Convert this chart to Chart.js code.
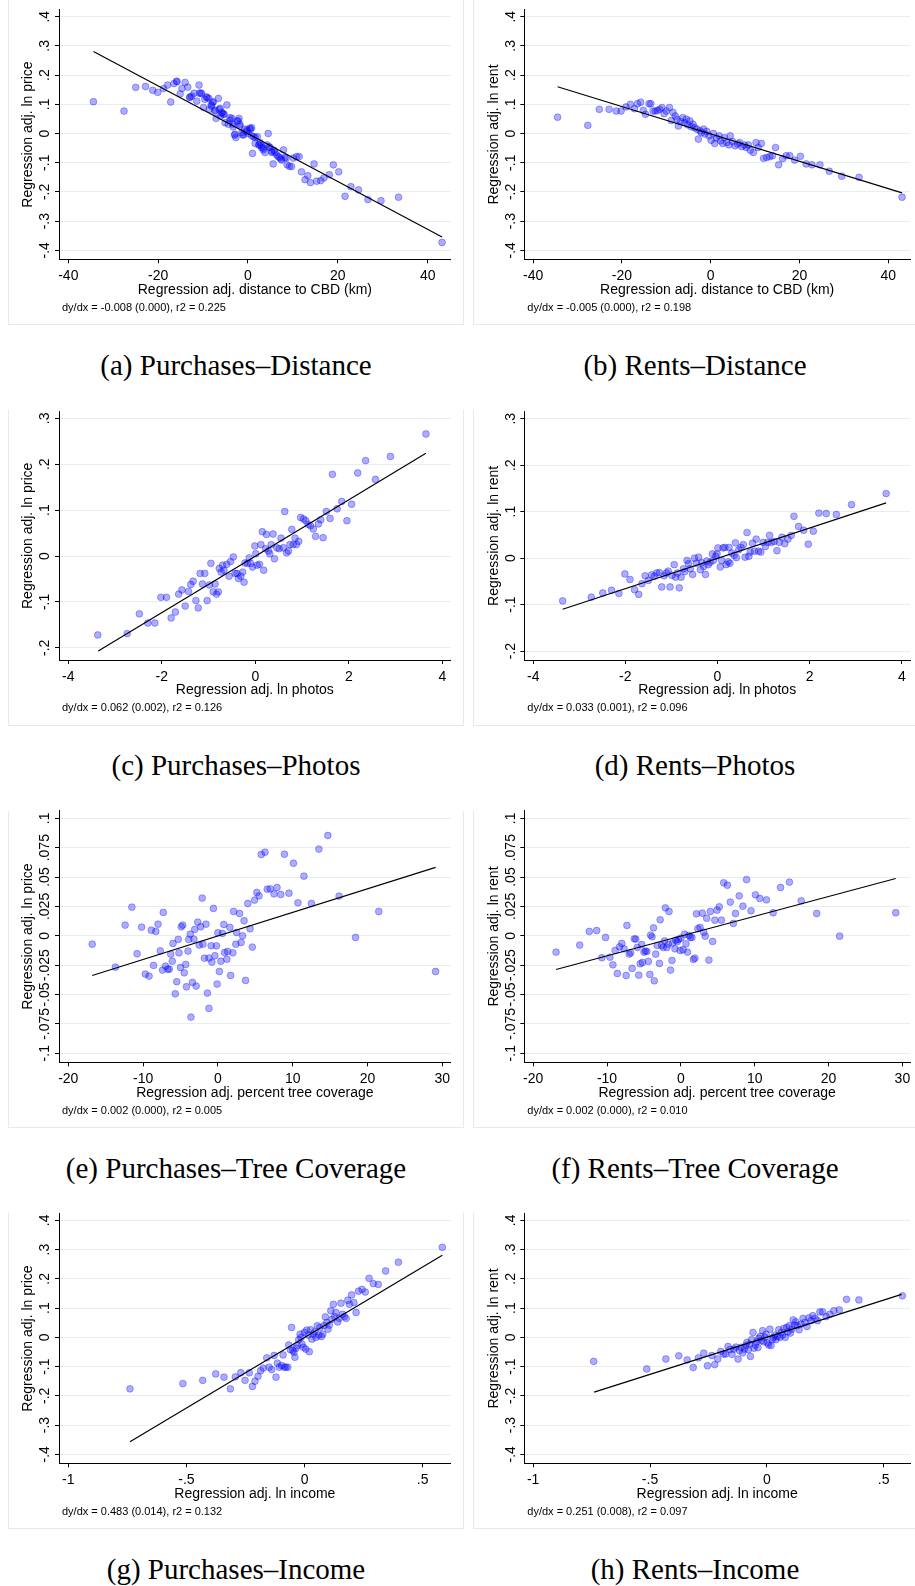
<!DOCTYPE html>
<html>
<head>
<meta charset="utf-8">
<title>Regression-adjusted scatter plots</title>
<script src="https://cdn.jsdelivr.net/npm/chart.js@4.4.1/dist/chart.umd.min.js"></script>
<style>
  html, body { margin: 0; padding: 0; background: #fff; }
  #page { position: relative; width: 915px; height: 1586px; overflow: hidden; }
  #page canvas { position: absolute; }
  .frame { position: absolute; box-sizing: border-box; border-left: 1px solid #e4ebee; border-bottom: 1px solid #e4ebee; }
  .note { position: absolute; font: 11px 'Liberation Sans', Arial, sans-serif; line-height: 11px; white-space: nowrap; color: #000; }
  .caption { position: absolute; width: 460px; text-align: center; font: 29px 'Liberation Serif', 'Times New Roman', serif; line-height: 29px; white-space: nowrap; color: #000; }
</style>
</head>
<body>
<div id="page"></div>
<script>
// --- TICKS ---
const ticksDistX = [-40, -20, 0, 20, 40];
const ticksPhotoX = [-4, -2, 0, 2, 4];
const ticksTreeX = [-20, -10, 0, 10, 20, 30];
const ticksIncX = [-1, -0.5, 0, 0.5];
const ticksWideY = [-0.4, -0.3, -0.2, -0.1, 0, 0.1, 0.2, 0.3, 0.4];
const ticksPhotoY = [-0.2, -0.1, 0, 0.1, 0.2, 0.3];
const ticksTreeY = [-0.1, -0.075, -0.05, -0.025, 0, 0.025, 0.05, 0.075, 0.1];

// --- (a) purchases vs distance ---
const distBuyX = [-34.4,-27.6,-25.0,-22.8,-21.2,-20.1,-18.8,-17.9,-17.2,-16.5,-15.8,-15.1,-14.7,-14.0,-13.4,-13.0,-12.5,-12.0,-11.4,-10.9,-10.8,-10.3,-9.9,-9.6,-9.2,-8.7,-8.6,-8.2,-7.9,-7.4,-7.1,-6.6,-6.4,-6.1,-5.7,-5.3,-5.1,-4.7,-4.4,-4.0,-3.6,-3.3,-3.0,-2.7,-2.4,-2.0,-1.8,-1.4,-1.0,-0.7,-0.3,0.1,0.6,0.8,1.0,1.3,1.6,2.1,2.4,2.7,3.0,3.4,3.8,4.2,4.5,4.7,5.3,5.6,6.0,6.4,7.0,7.5,7.9,8.2,8.7,9.2,9.7,10.1,10.8,11.4,11.9,12.7,13.3,13.9,14.7,15.3,16.2,16.9,18.1,19.0,20.2,21.6,22.9,24.6,26.7,29.6,33.5,43.2,
  -15.9,-12.9,-10.5,-9.1,-8.1,-7.7,-7.3,-6.2,-5.9,-5.5,-4.0,-3.4,-2.9,-2.2,-1.8,-1.2,-0.2,0.4,0.8,1.6,2.5,3.0,3.4,4.9,5.3,5.8,6.7,7.3,8.5];
const distBuyY = [0.109,0.077,0.158,0.161,0.148,0.141,0.154,0.166,0.108,0.171,0.177,0.136,0.154,0.175,0.159,0.123,0.128,0.138,0.111,0.166,0.138,0.136,0.089,0.117,0.125,0.120,0.083,0.098,0.106,0.077,0.052,0.120,0.083,0.060,0.071,0.066,0.037,0.098,0.032,0.045,0.052,0.023,-0.005,-0.014,0.043,0.052,0.026,0.003,-0.005,0.015,0.007,0.0,0.015,0.020,-0.068,-0.011,-0.034,-0.011,-0.039,-0.031,-0.048,-0.056,-0.065,-0.039,0.0,-0.045,-0.061,-0.104,-0.065,-0.073,-0.082,-0.091,-0.056,-0.082,-0.107,-0.112,-0.113,-0.084,-0.079,-0.079,-0.131,-0.158,-0.144,-0.168,-0.104,-0.163,-0.161,-0.152,-0.141,-0.107,-0.131,-0.215,-0.182,-0.193,-0.226,-0.230,-0.218,-0.373,
  0.179,0.125,0.139,0.123,0.094,0.109,0.080,0.086,0.071,0.066,0.054,0.032,-0.002,0.043,0.032,-0.004,0.012,0.018,-0.008,-0.014,-0.038,-0.042,-0.050,-0.048,-0.065,-0.057,-0.079,-0.087,-0.084];
const distBuyFitX = [-34.4, 43.2];
const distBuyFitY = [0.281, -0.354];

// --- (b) rents vs distance ---
const distRentX = [-34.5,-27.7,-25.1,-22.9,-21.3,-20.2,-19.1,-18.1,-17.2,-16.5,-15.8,-15.2,-14.7,-13.9,-13.5,-13.0,-12.5,-12.0,-11.5,-11.0,-10.5,-10.0,-9.3,-8.9,-8.5,-8.0,-7.6,-7.3,-6.8,-6.3,-5.9,-5.5,-5.2,-4.7,-4.4,-4.0,-3.6,-3.1,-2.8,-2.4,-2.1,-1.6,-1.3,-0.9,-0.4,0.1,0.6,0.9,1.3,1.9,2.2,2.7,3.1,3.6,4.1,4.4,4.9,5.5,6.1,6.5,7.0,7.6,8.0,8.5,8.9,9.6,10.2,10.7,11.4,11.9,12.6,13.3,13.9,14.6,15.3,16.2,17.0,17.8,18.9,20.2,21.5,22.8,24.6,26.7,29.5,33.4,43.1];
const distRentY = [0.056,0.028,0.083,0.083,0.077,0.077,0.091,0.100,0.085,0.102,0.107,0.079,0.066,0.102,0.102,0.077,0.077,0.079,0.083,0.089,0.068,0.077,0.089,0.045,0.072,0.060,0.049,0.026,0.041,0.054,0.037,0.049,0.030,0.043,0.023,0.032,0.020,0.015,-0.019,0.009,0.003,0.015,-0.002,0.007,-0.008,-0.023,0.0,-0.034,-0.016,-0.008,-0.025,-0.034,-0.014,-0.031,-0.039,-0.008,-0.027,-0.042,-0.036,-0.031,-0.045,-0.039,-0.048,-0.039,-0.057,-0.065,-0.031,-0.048,-0.034,-0.085,-0.082,-0.079,-0.076,-0.048,-0.107,-0.086,-0.076,-0.076,-0.091,-0.078,-0.104,-0.107,-0.107,-0.129,-0.146,-0.150,-0.218];
const distRentFitX = [-34.5, 43.1];
const distRentFitY = [0.160, -0.203];

// --- (c) purchases vs photos ---
const photoBuyX = [-3.37,-2.74,-2.48,-2.30,-2.15,-2.02,-1.90,-1.80,-1.71,-1.64,-1.57,-1.50,-1.43,-1.38,-1.33,-1.27,-1.22,-1.18,-1.13,-1.08,-1.03,-0.98,-0.95,-0.90,-0.86,-0.83,-0.79,-0.77,-0.73,-0.70,-0.67,-0.61,-0.56,-0.53,-0.47,-0.43,-0.39,-0.36,-0.31,-0.27,-0.24,-0.22,-0.17,-0.13,-0.10,-0.06,-0.01,0.01,0.04,0.09,0.12,0.15,0.18,0.22,0.24,0.28,0.31,0.34,0.38,0.41,0.46,0.51,0.55,0.60,0.63,0.67,0.71,0.74,0.78,0.81,0.85,0.88,0.93,0.97,1.03,1.08,1.13,1.18,1.24,1.29,1.35,1.40,1.45,1.52,1.60,1.65,1.75,1.85,1.96,2.06,2.19,2.36,2.57,2.89,3.65];
const photoBuyY = [-0.172,-0.169,-0.126,-0.146,-0.146,-0.090,-0.090,-0.135,-0.122,-0.083,-0.074,-0.109,-0.077,-0.062,-0.055,-0.097,-0.113,-0.038,-0.061,-0.038,-0.097,-0.063,-0.016,-0.078,-0.061,-0.083,-0.078,-0.027,-0.035,-0.020,-0.031,-0.018,-0.044,-0.012,-0.002,-0.038,-0.038,-0.049,-0.044,-0.035,-0.057,-0.015,-0.016,-0.004,-0.016,-0.024,0.022,0.005,-0.020,-0.018,0.025,0.053,-0.031,0.016,0.047,0.011,0.005,0.025,0.048,-0.006,0.018,0.016,0.039,0.018,0.097,0.007,0.011,0.025,0.058,0.025,0.039,0.025,0.032,0.084,0.081,0.077,0.069,0.066,0.059,0.043,0.070,0.079,0.040,0.097,0.082,0.178,0.103,0.119,0.077,0.113,0.181,0.208,0.167,0.217,0.266];
const photoBuyFitX = [-3.36, 3.65];
const photoBuyFitY = [-0.207, 0.224];

// --- (d) rents vs photos ---
const photoRentX = [-3.36,-2.74,-2.49,-2.30,-2.14,-2.01,-1.90,-1.80,-1.71,-1.64,-1.57,-1.50,-1.43,-1.37,-1.32,-1.26,-1.21,-1.16,-1.11,-1.07,-1.03,-0.99,-0.94,-0.91,-0.87,-0.83,-0.79,-0.74,-0.71,-0.66,-0.63,-0.59,-0.54,-0.50,-0.46,-0.41,-0.37,-0.34,-0.30,-0.26,-0.23,-0.20,-0.16,-0.11,-0.09,-0.04,-0.01,0.01,0.06,0.09,0.12,0.16,0.19,0.23,0.27,0.25,0.31,0.36,0.39,0.41,0.46,0.51,0.56,0.60,0.64,0.68,0.71,0.76,0.80,0.84,0.89,0.94,0.99,1.04,1.09,1.13,1.17,1.23,1.29,1.34,1.40,1.46,1.53,1.60,1.66,1.76,1.87,1.97,2.08,2.20,2.36,2.58,2.91,3.66];
const photoRentY = [-0.092,-0.084,-0.075,-0.069,-0.076,-0.034,-0.046,-0.068,-0.078,-0.055,-0.038,-0.048,-0.036,-0.039,-0.032,-0.031,-0.062,-0.038,-0.032,-0.028,-0.062,-0.037,-0.014,-0.041,-0.032,-0.064,-0.041,-0.023,-0.029,-0.005,-0.012,-0.023,-0.035,0.0,-0.011,0.002,-0.025,-0.010,-0.018,-0.035,-0.006,-0.014,-0.009,0.009,-0.005,0.004,0.009,0.022,-0.019,-0.005,0.022,0.023,-0.014,-0.008,-0.011,0.023,0.011,0.006,0.033,0.001,0.018,0.023,0.029,0.002,0.055,0.004,0.013,0.032,0.015,0.041,0.015,0.013,0.034,0.025,0.034,0.049,0.034,0.036,0.016,0.034,0.045,0.031,0.041,0.049,0.090,0.068,0.060,0.030,0.058,0.097,0.096,0.094,0.115,0.139];
const photoRentFitX = [-3.36, 3.66];
const photoRentFitY = [-0.110, 0.119];

// --- (e) purchases vs tree coverage ---
const treeBuyX = [-16.8,-13.7,-12.4,-11.5,-10.8,-10.2,-9.7,-9.2,-8.9,-8.6,-8.3,-8.0,-7.7,-7.4,-7.3,-7.0,-6.7,-6.5,-6.3,-6.1,-6.0,-5.7,-5.5,-5.3,-5.2,-5.0,-4.9,-4.7,-4.5,-4.3,-4.2,-4.0,-3.9,-3.7,-3.6,-3.4,-3.2,-3.1,-2.9,-2.7,-2.5,-2.3,-2.1,-2.0,-1.8,-1.6,-1.4,-1.2,-1.2,-0.9,-0.8,-0.6,-0.4,-0.2,-0.1,0.0,0.2,0.4,0.6,0.8,0.9,1.2,1.3,1.6,1.7,2.0,2.1,2.4,2.5,2.9,3.1,3.3,3.5,3.7,4.0,4.3,4.6,4.9,5.2,5.5,5.8,6.3,6.6,7.0,7.5,7.9,8.4,8.9,9.5,10.1,10.7,11.5,12.5,13.5,14.7,16.2,18.4,21.5,29.1];
const treeBuyY = [-0.0071,-0.0267,0.0091,0.0244,-0.0153,0.0074,-0.0326,-0.0343,0.0048,-0.0252,0.0037,0.0099,-0.0128,-0.0292,0.0199,-0.0258,-0.0284,-0.0284,-0.0156,-0.0216,-0.0065,-0.0494,-0.0391,-0.0031,-0.0145,-0.0270,0.0077,0.0091,-0.0315,-0.0244,-0.0434,-0.0130,-0.0031,0.0014,-0.0692,-0.0397,-0.0028,0.0054,-0.0428,0.0116,-0.0079,0.0077,0.0321,-0.0071,-0.0190,0.0099,-0.0488,-0.0618,-0.0190,-0.0085,-0.0224,0.0233,-0.0170,-0.0085,-0.0411,0.0026,-0.0304,-0.0216,0.0020,0.0096,-0.0142,-0.0199,-0.0133,0.0071,-0.0338,-0.0145,0.0207,-0.0071,0.0028,0.0190,-0.0057,0.0,0.0128,-0.0380,0.0275,0.0060,-0.0096,0.0304,0.0369,0.0340,0.0692,0.0712,0.0397,0.0400,0.0357,0.0411,0.0352,0.0695,0.0363,0.0618,0.0281,0.0508,0.0275,0.0738,0.0854,0.0338,-0.0014,0.0207,-0.0304];
const treeBuyFitX = [-16.8, 29.1];
const treeBuyFitY = [-0.0338, 0.0582];

// --- (f) rents vs tree coverage ---
const treeRentX = [-16.9,-13.7,-12.4,-11.4,-10.7,-10.2,-9.6,-9.2,-8.9,-8.6,-8.3,-8.0,-7.7,-7.4,-7.3,-7.0,-6.8,-6.6,-6.3,-6.1,-5.9,-5.7,-5.5,-5.3,-5.2,-5.0,-4.8,-4.6,-4.4,-4.2,-4.1,-3.9,-3.7,-3.6,-3.4,-3.2,-2.9,-2.8,-2.6,-2.4,-2.2,-2.1,-1.9,-1.7,-1.6,-1.4,-1.2,-1.1,-0.8,-0.7,-0.5,-0.3,-0.1,0.0,0.3,0.5,0.7,0.9,1.1,1.3,1.5,1.7,1.9,2.1,2.3,2.6,2.9,3.1,3.3,3.5,3.8,4.0,4.3,4.6,4.9,5.2,5.5,5.8,6.3,6.7,7.1,7.4,7.9,8.4,8.9,9.5,10.1,10.7,11.6,12.5,13.5,14.7,16.3,18.4,21.5,29.1];
const treeRentY = [-0.0139,-0.0079,0.0037,0.0045,-0.0187,-0.0014,-0.0182,-0.0247,-0.0125,-0.0321,-0.0094,-0.0065,-0.0111,-0.0338,0.0088,-0.0156,-0.0145,-0.0278,-0.0026,-0.0028,-0.0099,-0.0335,-0.0238,-0.0074,-0.0227,-0.0139,-0.0130,-0.0133,-0.0218,-0.0329,0.0006,-0.0009,0.0068,-0.0383,-0.0156,-0.0082,-0.0235,0.0136,-0.0082,-0.0099,-0.0043,0.0238,-0.0099,-0.0071,0.0207,-0.0292,-0.0210,-0.0060,-0.0111,-0.0037,-0.0051,-0.0031,-0.0125,-0.0020,-0.0119,0.0014,-0.0068,-0.0139,0.0003,-0.0014,-0.0014,-0.0201,-0.0190,0.0187,0.0060,0.0071,0.0193,0.0031,-0.0003,0.0150,-0.0207,0.0207,-0.0048,0.0133,0.0218,0.0247,0.0133,0.0451,0.0431,0.0287,0.0105,0.0190,0.0340,0.0252,0.0479,0.0213,0.0349,0.0318,0.0306,0.0196,0.0411,0.0457,0.0298,0.0190,-0.0003,0.0196];
const treeRentFitX = [-16.9, 29.1];
const treeRentFitY = [-0.0287, 0.0488];

// --- (g) purchases vs income ---
const incBuyX = [-0.739,-0.515,-0.431,-0.376,-0.341,-0.314,-0.293,-0.270,-0.252,-0.234,-0.221,-0.210,-0.197,-0.186,-0.175,-0.160,-0.150,-0.139,-0.129,-0.121,-0.115,-0.107,-0.097,-0.091,-0.086,-0.079,-0.071,-0.067,-0.060,-0.055,-0.050,-0.045,-0.041,-0.036,-0.031,-0.025,-0.019,-0.015,-0.011,-0.005,-0.001,0.005,0.009,0.015,0.020,0.026,0.031,0.037,0.043,0.048,0.054,0.060,0.065,0.071,0.077,0.082,0.088,0.094,0.099,0.105,0.111,0.116,0.122,0.127,0.133,0.140,0.147,0.154,0.161,0.168,0.176,0.183,0.190,0.199,0.209,0.218,0.228,0.243,0.257,0.273,0.291,0.312,0.343,0.397,0.583];
const incBuyY = [-0.176,-0.158,-0.147,-0.125,-0.136,-0.176,-0.135,-0.121,-0.147,-0.121,-0.168,-0.150,-0.133,-0.114,-0.105,-0.070,-0.102,-0.110,-0.062,-0.136,-0.088,-0.102,-0.096,-0.060,-0.102,-0.102,-0.102,-0.026,-0.042,0.034,-0.045,-0.051,-0.068,-0.037,-0.028,-0.008,0.011,0.0,-0.023,-0.034,0.017,-0.040,0.025,0.008,-0.049,0.026,-0.006,0.011,0.019,0.0,0.040,0.008,0.034,0.003,0.011,0.040,0.070,0.051,0.028,0.042,0.091,0.062,0.113,0.071,0.085,0.053,0.065,0.117,0.079,0.071,0.065,0.127,0.113,0.145,0.119,0.085,0.158,0.164,0.155,0.202,0.184,0.181,0.227,0.257,0.308];
const incBuyFitX = [-0.739, 0.583];
const incBuyFitY = [-0.357, 0.281];

// --- (h) rents vs income ---
const incRentX = [-0.741,-0.514,-0.432,-0.377,-0.341,-0.315,-0.293,-0.270,-0.254,-0.235,-0.223,-0.210,-0.197,-0.185,-0.176,-0.166,-0.158,-0.149,-0.141,-0.132,-0.123,-0.117,-0.110,-0.103,-0.096,-0.090,-0.085,-0.079,-0.073,-0.070,-0.065,-0.059,-0.055,-0.049,-0.044,-0.038,-0.034,-0.028,-0.023,-0.018,-0.014,-0.008,-0.003,0.003,0.008,0.013,0.018,0.023,0.028,0.034,0.039,0.045,0.051,0.056,0.062,0.068,0.073,0.079,0.085,0.090,0.096,0.101,0.107,0.113,0.118,0.124,0.130,0.138,0.146,0.155,0.163,0.172,0.180,0.189,0.197,0.207,0.217,0.227,0.239,0.254,0.270,0.287,0.310,0.341,0.394,0.580];
const incRentY = [-0.082,-0.108,-0.074,-0.063,-0.077,-0.103,-0.070,-0.054,-0.097,-0.062,-0.093,-0.074,-0.048,-0.057,-0.057,-0.031,-0.042,-0.058,-0.040,-0.033,-0.074,-0.045,-0.034,-0.053,-0.040,-0.028,-0.017,-0.042,-0.023,-0.065,-0.008,0.017,-0.037,-0.026,-0.015,-0.035,-0.003,0.003,-0.011,0.023,-0.015,0.0,0.011,-0.019,-0.026,0.028,-0.028,-0.008,0.0,0.008,-0.008,0.003,0.026,0.0,0.017,0.008,0.031,0.0,0.034,0.019,0.040,0.015,0.028,0.060,0.042,0.053,0.040,0.026,0.045,0.065,0.051,0.037,0.067,0.057,0.074,0.065,0.057,0.087,0.087,0.071,0.079,0.091,0.094,0.130,0.128,0.142];
const incRentFitX = [-0.739, 0.577];
const incRentFitY = [-0.187, 0.147];

// --- PANEL LAYOUT ---
// plot box = Stata plot region in page pixels; ranges are the axis limits at those edges.
const rows = [
  { top: 8.3, bottom: 259.3 },
  { top: 410, bottom: 660 },
  { top: 810.7, bottom: 1062.3 },
  { top: 1212.3, bottom: 1463.3 },
];
const cols = [
  { canvasLeft: 0, canvasWidth: 460, left: 59, right: 450.7, frameLeft: 8, frameWidth: 456, captionLeft: 6 },
  { canvasLeft: 460, canvasWidth: 455, left: 524.3, right: 915, frameLeft: 473, frameWidth: 460, captionLeft: 465 },
];

const panels = [
  { row: 0, col: 0, xs: distBuyX, ys: distBuyY, fitX: distBuyFitX, fitY: distBuyFitY,
    xTicks: ticksDistX, yTicks: ticksWideY, xRange: [-42.07, 45.12], yRange: [-0.4306, 0.4238],
    xTitle: 'Regression adj. distance to CBD (km)', yTitle: 'Regression adj. ln price',
    note: 'dy/dx = -0.008 (0.000), r2 = 0.225', caption: '(a) Purchases–Distance' },
  { row: 0, col: 1, xs: distRentX, ys: distRentY, fitX: distRentFitX, fitY: distRentFitY,
    xTicks: ticksDistX, yTicks: ticksWideY, xRange: [-42.0, 44.89], yRange: [-0.4306, 0.4238],
    xTitle: 'Regression adj. distance to CBD (km)', yTitle: 'Regression adj. ln rent',
    note: 'dy/dx = -0.005 (0.000), r2 = 0.198', caption: '(b) Rents–Distance' },
  { row: 1, col: 0, xs: photoBuyX, ys: photoBuyY, fitX: photoBuyFitX, fitY: photoBuyFitY,
    xTicks: ticksPhotoX, yTicks: ticksPhotoY, xRange: [-4.199, 4.18], yRange: [-0.2266, 0.3145],
    xTitle: 'Regression adj. ln photos', yTitle: 'Regression adj. ln price',
    note: 'dy/dx = 0.062 (0.002), r2 = 0.126', caption: '(c) Purchases–Photos' },
  { row: 1, col: 1, xs: photoRentX, ys: photoRentY, fitX: photoRentFitX, fitY: photoRentFitY,
    xTicks: ticksPhotoX, yTicks: ticksPhotoY, xRange: [-4.193, 4.178], yRange: [-0.2192, 0.315],
    xTitle: 'Regression adj. ln photos', yTitle: 'Regression adj. ln rent',
    note: 'dy/dx = 0.033 (0.001), r2 = 0.096', caption: '(d) Rents–Photos' },
  { row: 2, col: 0, xs: treeBuyX, ys: treeBuyY, fitX: treeBuyFitX, fitY: treeBuyFitY,
    xTicks: ticksTreeX, yTicks: ticksTreeY, xRange: [-21.24, 31.12], yRange: [-0.1077, 0.1065],
    xTitle: 'Regression adj. percent tree coverage', yTitle: 'Regression adj. ln price',
    note: 'dy/dx = 0.002 (0.000), r2 = 0.005', caption: '(e) Purchases–Tree Coverage' },
  { row: 2, col: 1, xs: treeRentX, ys: treeRentY, fitX: treeRentFitX, fitY: treeRentFitY,
    xTicks: ticksTreeX, yTicks: ticksTreeY, xRange: [-21.2, 31.03], yRange: [-0.1077, 0.1065],
    xTitle: 'Regression adj. percent tree coverage', yTitle: 'Regression adj. ln rent',
    note: 'dy/dx = 0.002 (0.000), r2 = 0.010', caption: '(f) Rents–Tree Coverage' },
  { row: 3, col: 0, xs: incBuyX, ys: incBuyY, fitX: incBuyFitX, fitY: incBuyFitY,
    xTicks: ticksIncX, yTicks: ticksWideY, xRange: [-1.0394, 0.6185], yRange: [-0.4306, 0.4228],
    xTitle: 'Regression adj. ln income', yTitle: 'Regression adj. ln price',
    note: 'dy/dx = 0.483 (0.014), r2 = 0.132', caption: '(g) Purchases–Income' },
  { row: 3, col: 1, xs: incRentX, ys: incRentY, fitX: incRentFitX, fitY: incRentFitY,
    xTicks: ticksIncX, yTicks: ticksWideY, xRange: [-1.038, 0.6128], yRange: [-0.4306, 0.4228],
    xTitle: 'Regression adj. ln income', yTitle: 'Regression adj. ln rent',
    note: 'dy/dx = 0.251 (0.008), r2 = 0.097', caption: '(h) Rents–Income' },
];

const FONT = "'Liberation Sans', Arial, sans-serif";
Chart.defaults.font.family = FONT;
Chart.defaults.font.size = 14;
Chart.defaults.color = '#000';

const GRID = '#e6eef0';
const TICK_LEN = 4;
const X_AXIS_H = 40;

// Stata drops the leading zero: .4, -.025
function stataLabel(v) {
  const s = String(Math.round(v * 10000) / 10000);
  return s.replace(/^(-?)0\./, '$1.');
}

const measureCtx = document.createElement('canvas').getContext('2d');
measureCtx.font = '14px ' + FONT;

const page = document.getElementById('page');

function addDiv(cls, text, css) {
  const d = document.createElement('div');
  d.className = cls;
  d.textContent = text;
  Object.assign(d.style, css);
  page.appendChild(d);
  return d;
}

function buildPanel(p) {
  const row = rows[p.row];
  const col = cols[p.col];

  // light outline of the Stata graph region
  const frameTop = p.row === 0 ? 0 : row.top;
  const frame = document.createElement('div');
  frame.className = 'frame';
  Object.assign(frame.style, {
    left: col.frameLeft + 'px', top: frameTop + 'px',
    width: col.frameWidth + 'px', height: (row.bottom + 66 - frameTop) + 'px',
    borderRight: p.col === 0 ? '1px solid #e4ebee' : 'none',
  });
  page.appendChild(frame);

  const canvasTop = Math.floor(row.top - 8);
  const canvasH = Math.ceil(row.bottom + X_AXIS_H + 2 - canvasTop);
  const yAxisW = col.left - col.canvasLeft;
  const widest = Math.max(...p.yTicks.map(v => measureCtx.measureText(stataLabel(v)).width));

  const canvas = document.createElement('canvas');
  canvas.width = col.canvasWidth;
  canvas.height = canvasH;
  canvas.style.left = col.canvasLeft + 'px';
  canvas.style.top = canvasTop + 'px';
  page.appendChild(canvas);

  new Chart(canvas, {
    type: 'scatter',
    data: {
      datasets: [
        {
          data: p.fitX.map((x, i) => ({ x, y: p.fitY[i] })),
          showLine: true,
          borderColor: '#000',
          borderWidth: 1.2,
          pointRadius: 0,
          pointHoverRadius: 0,
        },
        {
          data: p.xs.map((x, i) => ({ x, y: p.ys[i] })),
          pointRadius: 3.4,
          backgroundColor: 'rgba(0, 0, 255, 0.32)',
          borderColor: 'rgba(0, 0, 255, 0.32)',
          borderWidth: 1,
        },
      ],
    },
    options: {
      responsive: false,
      animation: false,
      events: [],
      layout: {
        padding: {
          left: 0,
          top: row.top - canvasTop,
          right: col.canvasLeft + col.canvasWidth - col.right,
          bottom: canvasH - (row.bottom + X_AXIS_H - canvasTop),
        },
      },
      plugins: { legend: { display: false }, tooltip: { enabled: false } },
      scales: {
        x: {
          type: 'linear',
          position: 'bottom',
          min: p.xRange[0],
          max: p.xRange[1],
          afterBuildTicks: s => { s.ticks = p.xTicks.map(v => ({ value: v })); },
          afterFit: s => { s.height = X_AXIS_H; },
          grid: { drawOnChartArea: false, tickLength: TICK_LEN, tickColor: '#000', color: '#000' },
          border: { color: '#000', width: 1 },
          ticks: { autoSkip: false, maxRotation: 0, padding: 4.3, callback: v => stataLabel(v) },
          title: { display: true, text: p.xTitle, padding: { top: 0, bottom: X_AXIS_H - 38.9 } },
        },
        y: {
          type: 'linear',
          position: 'left',
          min: p.yRange[0],
          max: p.yRange[1],
          afterBuildTicks: s => { s.ticks = p.yTicks.map(v => ({ value: v })); },
          afterFit: s => { s.width = yAxisW; },
          grid: { color: GRID, tickLength: TICK_LEN, tickColor: '#000' },
          border: { color: '#000', width: 1 },
          ticks: {
            autoSkip: false, minRotation: 90, maxRotation: 90, crossAlign: 'center',
            padding: 9.5 - widest / 2, callback: v => stataLabel(v),
          },
          title: { display: true, text: p.yTitle, padding: { top: yAxisW - 38.9, bottom: 0 } },
        },
      },
    },
  });

  addDiv('note', p.note, { left: (col.left + 3) + 'px', top: (row.bottom + 42.3) + 'px' });
  addDiv('caption', p.caption, { left: col.captionLeft + 'px', top: (row.bottom + 115.7 - 24.3) + 'px' });
}

panels.forEach(buildPanel);
</script>
</body>
</html>
